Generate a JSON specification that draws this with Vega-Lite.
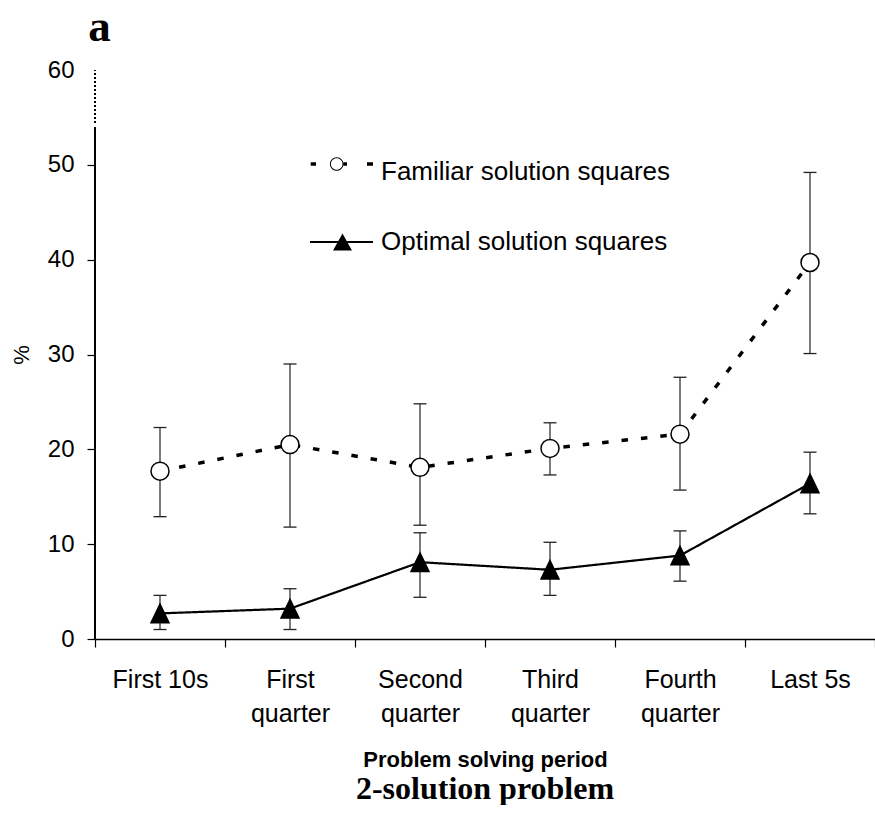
{
  "$schema": "https://vega.github.io/schema/vega-lite/v6.json",
  "padding": {"left": 10, "top": 5, "right": 0, "bottom": 0},
  "title": {"text": "a", "anchor": "start", "frame": "bounds", "font": "Liberation Serif", "fontSize": 45, "fontWeight": "bold", "color": "black", "dx": 78, "offset": 8},
  "config": {
    "view": {"stroke": null},
    "font": "Liberation Sans",
    "concat": {"spacing": 0},
    "axis": {"domainColor": "black", "tickColor": "black", "labelColor": "black", "titleColor": "black", "grid": false}
  },
  "vconcat": [
    {
      "width": 780,
      "height": 569,
      "title": {"text": "2-solution problem", "orient": "bottom", "anchor": "middle", "frame": "group", "font": "Liberation Serif", "fontSize": 32, "fontWeight": "bold", "color": "black", "offset": 4},
      "data": {
        "values": [
          {"period": "First 10s", "series": "Familiar solution squares", "mean": 17.7, "lo": 12.9, "hi": 22.3},
          {"period": "First quarter", "series": "Familiar solution squares", "mean": 20.5, "lo": 11.8, "hi": 29.0},
          {"period": "Second quarter", "series": "Familiar solution squares", "mean": 18.1, "lo": 12.0, "hi": 24.8},
          {"period": "Third quarter", "series": "Familiar solution squares", "mean": 20.1, "lo": 17.3, "hi": 22.8},
          {"period": "Fourth quarter", "series": "Familiar solution squares", "mean": 21.6, "lo": 15.7, "hi": 27.6},
          {"period": "Last 5s", "series": "Familiar solution squares", "mean": 39.7, "lo": 30.1, "hi": 49.2},
          {"period": "First 10s", "series": "Optimal solution squares", "mean": 2.7, "lo": 1.0, "hi": 4.6},
          {"period": "First quarter", "series": "Optimal solution squares", "mean": 3.2, "lo": 1.0, "hi": 5.3},
          {"period": "Second quarter", "series": "Optimal solution squares", "mean": 8.1, "lo": 4.4, "hi": 11.2},
          {"period": "Third quarter", "series": "Optimal solution squares", "mean": 7.3, "lo": 4.6, "hi": 10.2},
          {"period": "Fourth quarter", "series": "Optimal solution squares", "mean": 8.8, "lo": 6.1, "hi": 11.4},
          {"period": "Last 5s", "series": "Optimal solution squares", "mean": 16.4, "lo": 13.2, "hi": 19.7}
        ]
      },
      "encoding": {
        "x": {
          "field": "period", "type": "nominal",
          "sort": ["First 10s", "First quarter", "Second quarter", "Third quarter", "Fourth quarter", "Last 5s"],
          "scale": {"paddingInner": 0, "paddingOuter": 0},
          "axis": {
            "title": "Problem solving period", "titleFontSize": 22, "titleFontWeight": "bold", "titlePadding": 23,
            "labelAngle": 0, "labelFontSize": 25, "labelLineHeight": 34, "labelPadding": 20,
            "labelExpr": "(datum.label == 'First 10s' || datum.label == 'Last 5s') ? datum.label : split(datum.label, ' ')",
            "tickSize": 8, "tickBand": "extent", "domainWidth": 1.5, "tickWidth": 1.2
          }
        }
      },
      "resolve": {"scale": {"shape": "independent"}},
      "layer": [
        {
          "mark": {"type": "rule", "stroke": "#222", "strokeWidth": 1.2},
          "encoding": {"y": {"field": "lo", "type": "quantitative"}, "y2": {"field": "hi"}}
        },
        {
          "mark": {"type": "tick", "color": "#222", "size": 13, "thickness": 1.3, "opacity": 1},
          "encoding": {"y": {"field": "lo", "type": "quantitative"}}
        },
        {
          "mark": {"type": "tick", "color": "#222", "size": 13, "thickness": 1.3, "opacity": 1},
          "encoding": {"y": {"field": "hi", "type": "quantitative"}}
        },
        {
          "mark": {"type": "line", "color": "black"},
          "encoding": {
            "y": {
              "field": "mean", "type": "quantitative",
              "scale": {"domain": [0, 60], "nice": false},
              "axis": {
                "title": "%", "titleFontSize": 22, "titleFontWeight": "normal", "titlePadding": 14,
                "values": [0, 10, 20, 30, 40, 50, 60], "labelFontSize": 24, "labelPadding": 13,
                "tickSize": 8, "tickWidth": 1.2, "domain": false,
                "tickOpacity": {"condition": {"test": "datum.value == 60", "value": 0}, "value": 1}
              }
            },
            "strokeDash": {
              "field": "series", "type": "nominal",
              "scale": {"domain": ["Familiar solution squares", "Optimal solution squares"], "range": [[6.5, 13], [1, 0]]},
              "legend": null
            },
            "strokeWidth": {
              "field": "series", "type": "nominal",
              "scale": {"domain": ["Familiar solution squares", "Optimal solution squares"], "range": [3.5, 2.2]},
              "legend": null
            }
          }
        },
        {
          "mark": {"type": "point", "filled": true, "stroke": "black", "strokeWidth": 1.5, "size": 400, "opacity": 1},
          "encoding": {
            "y": {"field": "mean", "type": "quantitative"},
            "shape": {
              "field": "series", "type": "nominal",
              "scale": {"domain": ["Familiar solution squares", "Optimal solution squares"], "range": ["M0.9,0A0.9,0.9,0,1,1,-0.9,0A0.9,0.9,0,1,1,0.9,0Z", "M0,-0.93L0.9,0.93L-0.9,0.93Z"]},
              "legend": null
            },
            "fill": {
              "field": "series", "type": "nominal",
              "scale": {"range": ["white", "black"]},
              "legend": null
            }
          }
        },
        {
          "mark": {"type": "point", "filled": true, "fill": "black", "strokeWidth": 0, "size": 4624, "opacity": 0},
          "encoding": {
            "y": {"field": "mean", "type": "quantitative"},
            "shape": {
              "field": "series", "type": "nominal",
              "scale": {
                "domain": ["Familiar solution squares", "Optimal solution squares"],
                "range": [
                  "M-0.891,-0.285H-0.735V-0.185H-0.891ZM0.074,-0.235A0.2,0.2,0,1,1,-0.326,-0.235A0.2,0.2,0,1,1,0.074,-0.235ZM0.045,-0.235A0.171,0.171,0,1,0,-0.297,-0.235A0.171,0.171,0,1,0,0.045,-0.235ZM0.074,-0.285H0.176V-0.185H0.074ZM0.765,-0.285H0.941V-0.185H0.765Z",
                  "M-0.912,-0.032H0.941V0.032H-0.912ZM0.044,-0.25L0.323,0.25L-0.235,0.25Z"
                ]
              },
              "legend": {
                "orient": "none", "legendX": 212, "legendY": 68, "title": null,
                "symbolSize": 4624, "symbolOpacity": 1, "symbolFillColor": "black", "symbolStrokeWidth": 0,
                "labelFontSize": 26, "labelColor": "black", "labelOffset": 6, "labelLimit": 0,
                "rowPadding": 23, "padding": 0
              }
            }
          }
        },
        {
          "mark": {"type": "rule", "stroke": "black", "strokeWidth": 1.5},
          "encoding": {"x": {"datum": "First 10s", "bandPosition": 0}, "y": {"datum": 0, "type": "quantitative"}, "y2": {"datum": 54}}
        },
        {
          "mark": {"type": "rule", "stroke": "black", "strokeWidth": 1.2, "strokeDash": [1.5, 2.5]},
          "encoding": {"x": {"datum": "First 10s", "bandPosition": 0}, "y": {"datum": 54.4, "type": "quantitative"}, "y2": {"datum": 60}}
        }
      ]
    }
  ]
}
